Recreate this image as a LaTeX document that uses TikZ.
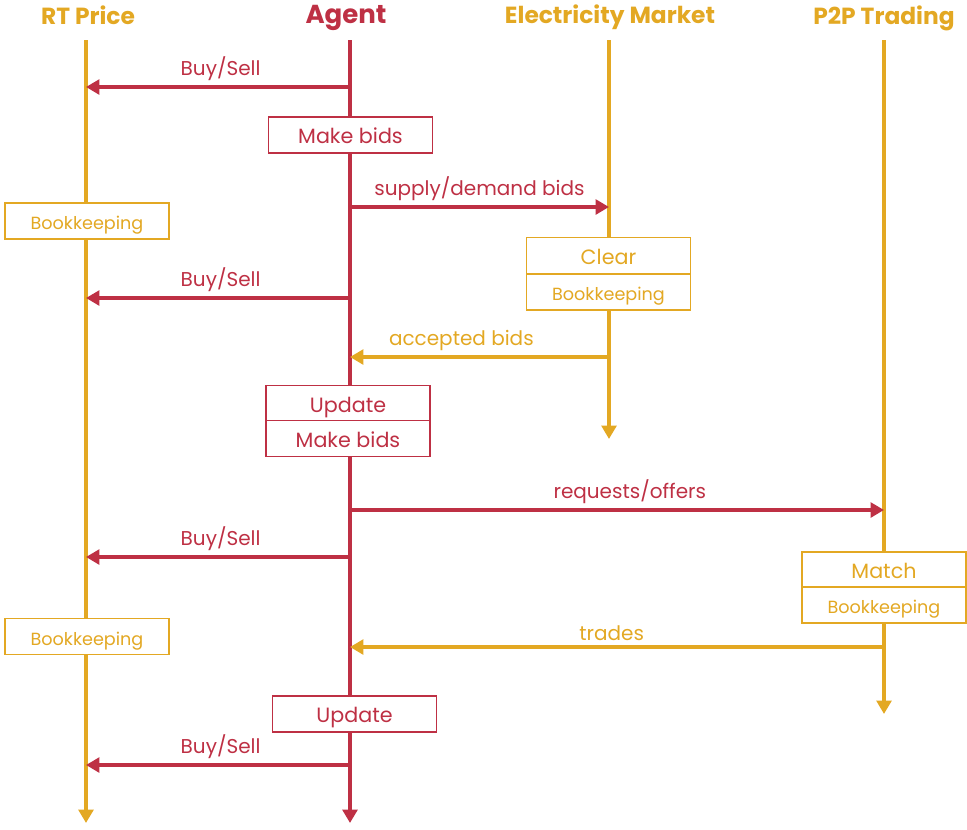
\documentclass[tikz,border=0pt]{standalone}
\usepackage{fontspec}
\setmainfont{Poppins}
\usetikzlibrary{arrows.meta}
\definecolor{gold}{RGB}{227,168,35}
\definecolor{crimson}{RGB}{190,48,68}

\begin{document}
\begin{tikzpicture}[x=0.75pt,y=-0.75pt,
	arr/.style={line width=3.2pt,-{Triangle[length=10pt,width=11pt]}},
	box/.style={draw,line width=1.2pt,fill=white,inner sep=0pt,
		minimum width=123pt,minimum height=27pt,text height=14pt,text depth=1pt,
		font=\fontsize{15.5}{17}\selectfont},
	rbox/.style={box,draw=crimson,text=crimson},
	gbox/.style={box,draw=gold,text=gold},
	small/.style={font=\fontsize{13.2}{15}\selectfont},
	head/.style={font=\fontsize{17.5}{20}\selectfont\bfseries},
	lbl/.style={font=\fontsize{15}{17}\selectfont,above=0pt}]
	\useasboundingbox (0,0) rectangle (967,829);

	%HEADERS
	\node[head,gold] (rt) at (88,15) {RT Price};
	\node[head,crimson,font=\fontsize{19.5}{21}\selectfont\bfseries] (ag) at (346,17.5) {Agent};
	\node[head,gold] (em) at (610,17) {Electricity Market};
	\node[head,gold] (pp) at (884,18) {P2P Trading};

	%LIFELINES
	\coordinate (rt0) at (86,40);  \coordinate (rtE) at (86,823);
	\coordinate (ag0) at (350,40); \coordinate (agE) at (350,823);
	\coordinate (em0) at (609,40); \coordinate (emE) at (609,439);
	\coordinate (pp0) at (884,40); \coordinate (ppE) at (884,714);
	\draw[arr,gold] (rt0)--(rtE);
	\draw[arr,crimson] (ag0)--(agE);
	\draw[arr,gold] (em0)--(emE);
	\draw[arr,gold] (pp0)--(ppE);

	%BUY/SELL
	\foreach \y in {87,298,557,765}{
		\coordinate (a\y) at (350,\y);
		\coordinate (r\y) at (86,\y);
		\draw[arr,crimson] (a\y)--(r\y) node[lbl,pos=0.49] {Buy/Sell};
	}

	%MESSAGES
	\coordinate (a207) at (350,207); \coordinate (e207) at (609,207);
	\draw[arr,crimson] (a207)--(e207) node[lbl,midway] {supply/demand bids};
	\coordinate (e357) at (609,357); \coordinate (a357) at (350,357);
	\draw[arr,gold] (e357)--(a357) node[lbl,pos=0.57] {accepted bids};
	\coordinate (a510) at (350,510); \coordinate (p510) at (884,510);
	\draw[arr,crimson] (a510)--(p510) node[lbl,pos=0.524] {requests/offers};
	\coordinate (p647) at (884,647); \coordinate (a647) at (350,647);
	\draw[arr,gold] (p647)--(a647) node[lbl,pos=0.51] {trades};

	%BOXES
	\node[rbox] (bids1) at (350.5,135) {Make bids};
	\node[gbox,small] (book1) at (87,221) {Bookkeeping};
	\node[gbox] (clear) at (608.5,255.5) {Clear};
	\node[gbox,small] (book2) at (608.5,292) {Bookkeeping};
	\node[rbox] (upd1) at (348,403.5) {Update};
	\node[rbox] (bids2) at (348,438.5) {Make bids};
	\node[gbox] (match) at (884,570) {Match};
	\node[gbox,small] (book3) at (884,605) {Bookkeeping};
	\node[gbox,small] (book4) at (87,636.5) {Bookkeeping};
	\node[rbox] (upd2) at (354.5,714) {Update};
\end{tikzpicture}
\end{document}
